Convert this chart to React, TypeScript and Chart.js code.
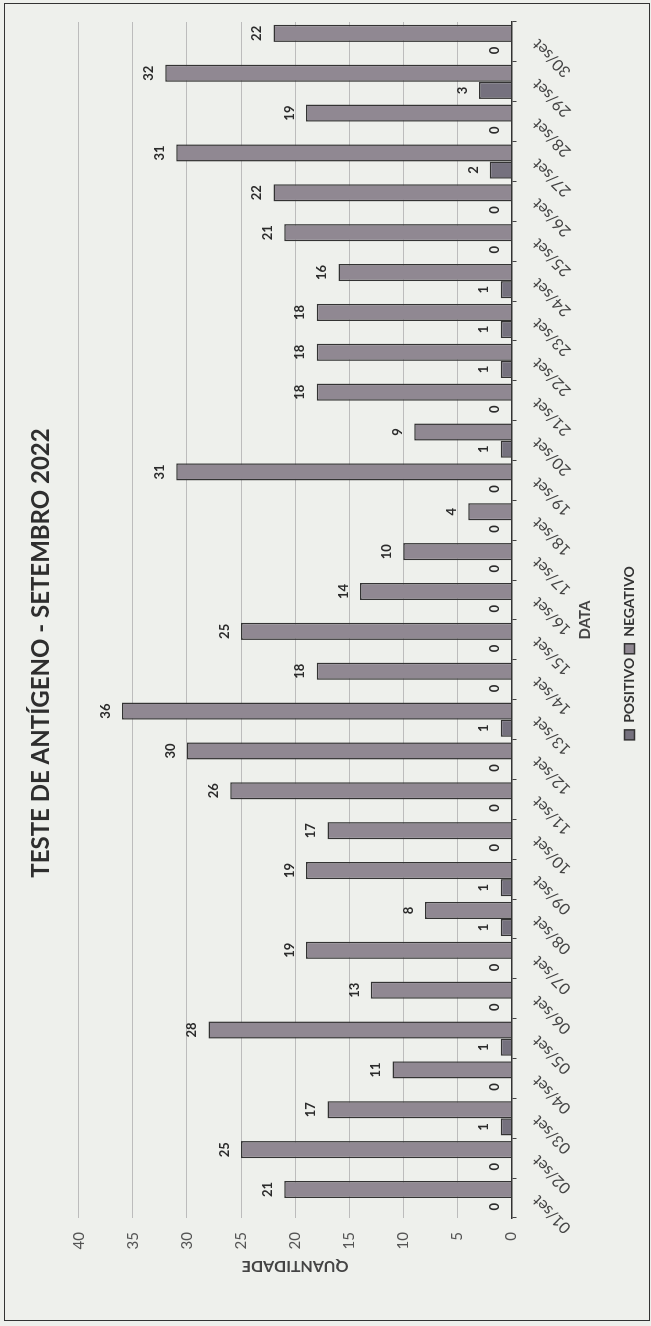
import React, { useEffect, useRef } from "react";
import { Chart, registerables, Plugin } from "chart.js";

Chart.register(...registerables);

// values (september 2022)
const dates = [
  "01/set", "02/set", "03/set", "04/set", "05/set", "06/set", "07/set", "08/set",
  "09/set", "10/set", "11/set", "12/set", "13/set", "14/set", "15/set", "16/set",
  "17/set", "18/set", "19/set", "20/set", "21/set", "22/set", "23/set", "24/set",
  "25/set", "26/set", "27/set", "28/set", "29/set", "30/set",
];
const positivo = [
  0, 0, 1, 0, 1, 0, 0, 1, 1, 0, 0, 0, 1, 0, 0, 0, 0, 0, 0, 1, 0, 1, 1, 1, 0, 0, 2,
  0, 3, 0,
];
const negativo = [
  21, 25, 17, 11, 28, 13, 19, 8, 19, 17, 26, 30, 36, 18, 25, 14, 10, 4, 31, 9, 18,
  18, 18, 16, 21, 22, 31, 19, 32, 22,
];

const FONT = "Lato, 'Liberation Sans', sans-serif";
const W = 1326;
const H = 651;

// numbers on top of every bar
const barValues: Plugin<"bar"> = {
  id: "barValues",
  afterDatasetsDraw(chart) {
    const ctx = chart.ctx;
    ctx.save();
    ctx.font = `bold 13px ${FONT}`;
    ctx.fillStyle = "#2b2b2b";
    ctx.textAlign = "center";
    ctx.textBaseline = "bottom";
    chart.data.datasets.forEach((ds, i) => {
      const meta = chart.getDatasetMeta(i);
      meta.data.forEach((bar, j) => {
        ctx.fillText(String(ds.data[j]), bar.x, bar.y - 10);
      });
    });
    ctx.restore();
  },
};

const App: React.FC = () => {
  const canvasRef = useRef<HTMLCanvasElement | null>(null);

  useEffect(() => {
    const ctx = canvasRef.current?.getContext("2d");
    if (!ctx) return;

    const chart = new Chart(ctx, {
      type: "bar",
      data: {
        labels: dates,
        datasets: [
          {
            label: "POSITIVO",
            data: positivo,
            backgroundColor: "#75717e",
            borderColor: "#333",
            borderWidth: 1.5,
            categoryPercentage: 0.86,
            barPercentage: 1,
          },
          {
            label: "NEGATIVO",
            data: negativo,
            backgroundColor: "#908892",
            borderColor: "#333",
            borderWidth: 1.5,
            categoryPercentage: 0.86,
            barPercentage: 1,
          },
        ],
      },
      options: {
        responsive: false,
        animation: false,
        layout: { padding: { top: 14, left: 42, right: 22, bottom: 4.5 } },
        plugins: {
          title: {
            display: true,
            text: "TESTE DE ANTÍGENO - SETEMBRO 2022",
            color: "#2e2e2e",
            font: { family: FONT, size: 24, weight: "bold" },
            padding: { top: 13, bottom: 23 },
          },
          legend: {
            position: "bottom",
            labels: {
              color: "#333",
              font: { family: FONT, size: 14, weight: "bold" },
              boxWidth: 10,
              boxHeight: 10,
              padding: 4,
            },
          },
          tooltip: { enabled: false },
        },
        scales: {
          x: {
            grid: {
              display: true,
              drawOnChartArea: false,
              drawTicks: true,
              tickLength: 5,
              color: "#444",
              offset: true,
            },
            border: { display: true, color: "#333", width: 1.5 },
            ticks: {
              autoSkip: false,
              minRotation: 45,
              maxRotation: 45,
              padding: 12,
              color: "#444",
              font: { family: FONT, size: 16 },
            },
            title: {
              display: true,
              text: "DATA",
              color: "#444",
              font: { family: FONT, size: 15, weight: "bold" },
              padding: { top: 0, bottom: 24.5 },
            },
            afterFit: (scale) => {
              scale.height = 107;
            },
          },
          y: {
            min: 0,
            max: 40,
            ticks: {
              stepSize: 5,
              padding: 14,
              color: "#555",
              font: { family: FONT, size: 15 },
            },
            grid: { color: "#bcbcbc", drawTicks: false, lineWidth: 1 },
            border: { display: false },
            title: {
              display: true,
              text: "QUANTIDADE",
              color: "#444",
              font: { family: FONT, size: 16, weight: "bold" },
              padding: { top: 8, bottom: 0 },
            },
            afterFit: (scale) => {
              scale.width = 66;
            },
          },
        },
      },
      plugins: [barValues],
    });

    return () => chart.destroy();
  }, []);

  // the scanned page is turned on its side, so the chart is drawn landscape and rotated
  return (
    <div
      style={{
        position: "absolute",
        left: 0,
        top: 0,
        width: W,
        height: H,
        background: "#eef0ec",
        transformOrigin: "0 0",
        transform: `translate(0px, ${W}px) rotate(-90deg)`,
      }}
    >
      <canvas ref={canvasRef} width={W} height={H} style={{ display: "block" }} />
      <div
        style={{
          position: "absolute",
          left: 5,
          top: 4,
          width: 1318,
          height: 646,
          border: "1.5px solid #333",
          boxSizing: "border-box",
          pointerEvents: "none",
        }}
      />
    </div>
  );
};

export default App;
